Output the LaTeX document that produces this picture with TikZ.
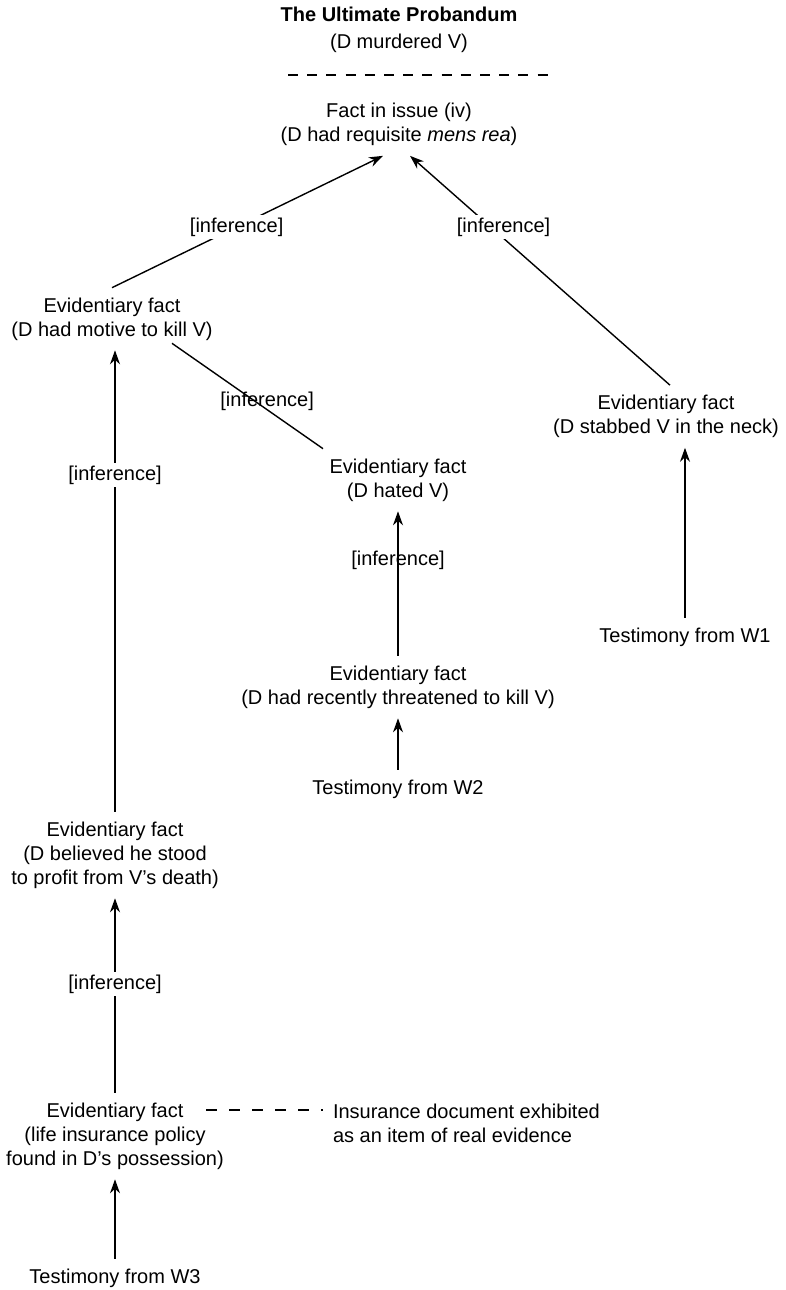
\documentclass[tikz,border=0pt]{standalone}
\usepackage{fontspec}
\setmainfont{Liberation Sans}
\usetikzlibrary{arrows.meta}
\tikzset{>={Stealth[length=14pt,width=10pt,inset=4.5pt]}}
\tikzset{%
    fact/.style={align=center, inner sep=0pt, outer sep=10pt},
    infer/.style={fill=white, inner sep=3pt},
    inferover/.style={inner sep=0pt}
}

\begin{document}
\begin{tikzpicture}[x=1pt, y=-1pt, line width=1.4pt, font=\fontsize{20}{24}\selectfont]
\useasboundingbox (0,0) rectangle (785,1290);

\node[fact] (probandum) at (399,30) {\textbf{The Ultimate Probandum}\\[3pt](D murdered V)};
\coordinate (sepL) at (288,75);
\coordinate (sepR) at (548,75);
\draw[line width=1.2pt, dash pattern=on 10pt off 9.2pt] (sepL) -- (sepR);

\node[fact] (issue) at (399,124.5) {Fact in issue (iv)\\(D had requisite \textit{mens rea})};

\node[fact] (motive) at (112,319) {Evidentiary fact\\(D had motive to kill V)};
\node[fact] (stab) at (666,416.5) {Evidentiary fact\\(D stabbed V in the neck)};
\node[fact] (hated) at (398,480) {Evidentiary fact\\(D hated V)};
\node[fact] (threat) at (398,687) {Evidentiary fact\\(D had recently threatened to kill V)};
\node[fact] (wtwo) at (398,789) {Testimony from W2};
\node[fact] (wone) at (685,637) {Testimony from W1};
\node[fact] (profit) at (115,855) {Evidentiary fact\\(D believed he stood\\to profit from V’s death)};
\node[fact] (policy) at (115,1136) {Evidentiary fact\\(life insurance policy\\found in D’s possession)};
\node[fact] (wthree) at (115,1278) {Testimony from W3};
\node[fact, align=left, anchor=west] (exhibit) at (323,1123.6) {Insurance document exhibited\\as an item of real evidence};

\draw[->] (motive.north) -- node[infer, pos=0.46] {[inference]} ([xshift=-16pt]issue.south);
\draw[->] ([xshift=4pt]stab.north) -- node[infer, pos=0.69, xshift=13pt] {[inference]} ([xshift=11pt]issue.south);
\draw ([xshift=60pt,yshift=7pt]motive.south) -- node[inferover, pos=0.63, yshift=8pt] {[inference]} ([xshift=-75pt]hated.north);
\draw[->] (wone.north) -- (wone.north |- stab.south);
\draw[->] (threat.north) -- node[inferover, pos=0.66] {[inference]} (hated.south);
\draw[->] (wtwo.north) -- (threat.south);
\draw[->] (profit.north) -- node[infer, pos=0.73] {[inference]} (profit.north |- motive.south);
\draw[->] (policy.north) -- node[infer, pos=0.56] {[inference]} (profit.south);
\draw[->] (wthree.north) -- (policy.south);

\coordinate (policyR) at (206,1110);
\draw[line width=1.2pt, dash pattern=on 11pt off 12pt] (policyR) -- (exhibit.west |- policyR);
\end{tikzpicture}
\end{document}
